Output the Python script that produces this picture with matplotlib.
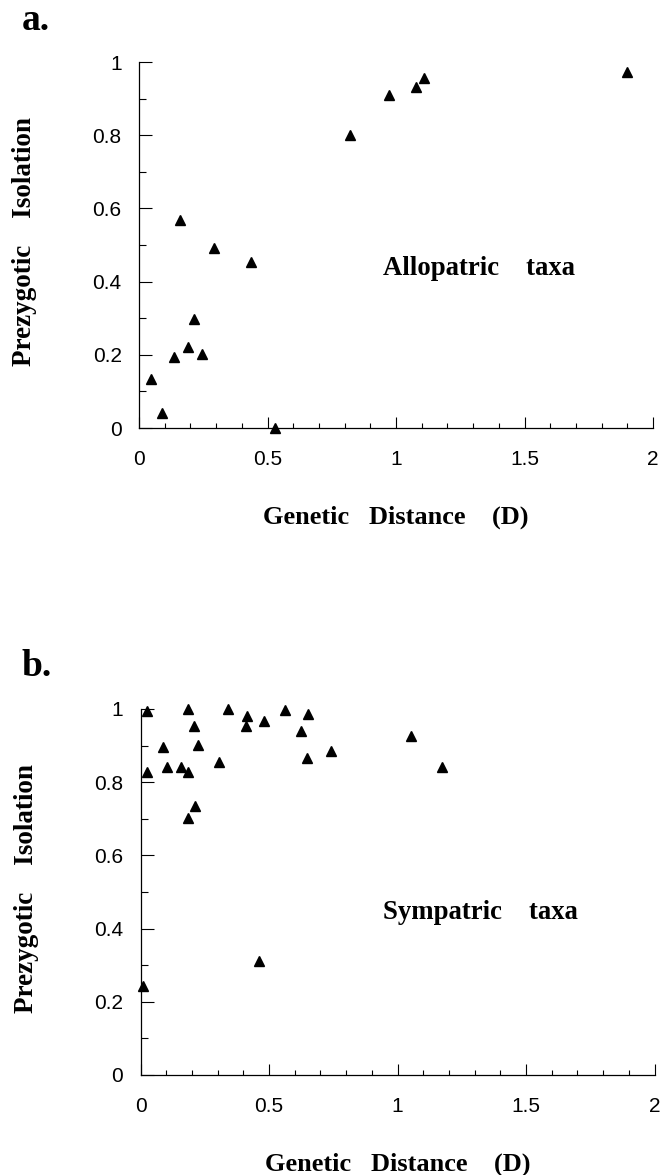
import matplotlib
matplotlib.use("Agg")
import matplotlib.pyplot as plt
from matplotlib.ticker import MultipleLocator

# ---- data ----
allo_D = [0.045, 0.09, 0.136, 0.16, 0.192, 0.213, 0.246, 0.292, 0.436, 0.529,
          0.82, 0.973, 1.077, 1.108, 1.897]
allo_iso = [0.133, 0.042, 0.195, 0.569, 0.222, 0.298, 0.202, 0.492, 0.453, 0.0,
            0.80, 0.911, 0.932, 0.956, 0.974]

sym_D = [0.025, 0.025, 0.008, 0.088, 0.105, 0.157, 0.185, 0.186, 0.208, 0.225,
         0.183, 0.211, 0.306, 0.339, 0.416, 0.412, 0.481, 0.562, 0.652, 0.624,
         0.648, 0.742, 0.46, 1.052, 1.172]
sym_iso = [0.994, 0.829, 0.243, 0.897, 0.841, 0.841, 0.828, 1.0, 0.954, 0.902,
           0.702, 0.734, 0.855, 1.0, 0.98, 0.953, 0.968, 0.998, 0.987, 0.939,
           0.867, 0.886, 0.311, 0.927, 0.841]

x_ticks = [0, 0.5, 1, 1.5, 2]
x_ticklabels = ["0", "0.5", "1", "1.5", "2"]
y_ticks = [0, 0.2, 0.4, 0.6, 0.8, 1]
y_ticklabels = ["0", "0.2", "0.4", "0.6", "0.8", "1"]

panel_labels = ["a.", "b."]
annotations = ["Allopatric    taxa", "Sympatric    taxa"]
xlabel = "Genetic   Distance    (D)"
ylabel = "Prezygotic    Isolation"

SERIF = "Liberation Serif"
SANS = "Liberation Sans"

W, H = 669, 1175
fig = plt.figure(figsize=(W / 100, H / 100), dpi=100)


def make_axes(left_px, top_px, right_px, bottom_px):
    return fig.add_axes([left_px / W, 1 - bottom_px / H,
                         (right_px - left_px) / W, (bottom_px - top_px) / H])


ax_a = make_axes(139, 62, 653, 428)
ax_b = make_axes(140.5, 709, 654.5, 1075)

datasets = [(ax_a, allo_D, allo_iso, 0.948, 0.419),
            (ax_b, sym_D, sym_iso, 0.944, 0.425)]

for i, (ax, xs, ys, tx, ty) in enumerate(datasets):
    ax.plot(xs, ys, linestyle="none", marker="^", color="black",
            markersize=7.9, clip_on=False, zorder=3)
    ax.set_xlim(0, 2)
    ax.set_ylim(0, 1)
    for s in ("top", "right"):
        ax.spines[s].set_visible(False)
    for s in ("left", "bottom"):
        ax.spines[s].set_linewidth(0.9)
    ax.set_xticks(x_ticks)
    ax.set_xticklabels(x_ticklabels, fontfamily=SANS, fontsize=15)
    ax.set_yticks(y_ticks)
    ax.set_yticklabels(y_ticklabels, fontfamily=SANS, fontsize=15)
    ax.xaxis.set_minor_locator(MultipleLocator(0.1))
    ax.yaxis.set_minor_locator(MultipleLocator(0.1))
    ax.tick_params(axis="x", which="major", direction="in", length=8,
                   width=0.8, pad=15.5)
    ax.tick_params(axis="x", which="minor", direction="in", length=3.5,
                   width=0.8)
    ax.tick_params(axis="y", which="major", direction="in", length=9,
                   width=0.8, pad=12.5)
    ax.tick_params(axis="y", which="minor", direction="in", length=5,
                   width=0.8)
    ax.set_xlabel(xlabel, fontfamily=SERIF, fontweight="bold", fontsize=19)
    ax.xaxis.set_label_coords(0.5, -0.262)
    ax.xaxis.label.set_va("baseline")
    ax.set_ylabel(ylabel, fontfamily=SERIF, fontweight="bold", fontsize=19.5)
    ax.yaxis.set_label_coords(-0.222, 0.51)
    ax.yaxis.label.set_va("center")
    ax.text(tx, ty, annotations[i], fontfamily=SERIF, fontweight="bold",
            fontsize=19.3, ha="left", va="baseline")

fig.text(22 / W, 1 - 30 / H, panel_labels[0], fontfamily=SERIF,
         fontweight="bold", fontsize=27, ha="left", va="baseline")
fig.text(22 / W, 1 - 676 / H, panel_labels[1], fontfamily=SERIF,
         fontweight="bold", fontsize=27, ha="left", va="baseline")

fig.savefig("out.png", dpi=100)
